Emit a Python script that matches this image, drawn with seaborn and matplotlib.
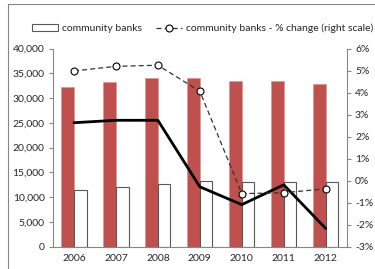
import matplotlib
matplotlib.use("Agg")
import matplotlib.pyplot as plt
from matplotlib.lines import Line2D
from matplotlib.patches import Patch
from matplotlib.ticker import FuncFormatter, FixedLocator
import seaborn as sns
import numpy as np
import pandas as pd

years = ["2006", "2007", "2008", "2009", "2010", "2011", "2012"]
all_banks = [32300, 33200, 34100, 34000, 33500, 33450, 32800]
community_banks = [11450, 12100, 12700, 13200, 13150, 13150, 13000]
all_banks_pct = [2.63, 2.74, 2.74, -0.28, -1.09, -0.19, -2.17]
community_pct = [4.98, 5.19, 5.24, 4.06, -0.59, -0.55, -0.37]

sns.set_style("white")
plt.rcParams["font.family"] = ["Lato", "DejaVu Sans"]
grey = "#868686"

df = pd.DataFrame({
    "year": years * 2,
    "value": all_banks + community_banks,
    "series": ["all banks"] * 7 + ["community banks"] * 7,
})

fig = plt.figure(figsize=(3.75, 2.69), dpi=100)
ax = fig.add_axes([0.1413, 0.0829, 0.7832, 0.7368])
sns.barplot(data=df, x="year", y="value", hue="series", ax=ax,
            palette=["#C0504D", "white"], width=0.6, legend=False,
            saturation=1)
for p in ax.patches[7:14]:
    p.set_edgecolor("#595959")
    p.set_linewidth(0.8)
for p in ax.patches[:7]:
    p.set_edgecolor("#D99694")
    p.set_linewidth(0.5)

ax.set_ylim(0, 40000)
ax.set_xlim(-0.5, 6.5)
ax.set_yticks(np.arange(0, 40001, 5000))
ax.yaxis.set_major_formatter(FuncFormatter(lambda v, _: f"{int(v):,}"))
ax.set_xlabel("")
ax.set_ylabel("")
ax.xaxis.set_minor_locator(FixedLocator(np.arange(-0.5, 7, 1)))
ax.tick_params(axis="x", which="major", length=0, labelsize=7.5, pad=5)
ax.tick_params(axis="x", which="minor", length=3, color=grey, width=0.8)
ax.tick_params(axis="y", length=3, color=grey, width=0.8, labelsize=7.5,
               left=True, pad=3)
for s in ["top", "right"]:
    ax.spines[s].set_visible(False)
for s in ["left", "bottom"]:
    ax.spines[s].set_color(grey)
    ax.spines[s].set_linewidth(0.8)

ax2 = ax.twinx()
xs = np.arange(len(years))
sns.lineplot(x=xs, y=all_banks_pct, ax=ax2, color="black", linewidth=2)
sns.lineplot(x=xs, y=community_pct, ax=ax2, color="#333333", linewidth=0.9,
             linestyle=(0, (4, 2.5)), marker="o", markersize=5,
             markerfacecolor="white", markeredgecolor="black",
             markeredgewidth=0.8)
ax2.set_ylim(-3, 6)
ax2.set_yticks(np.arange(-3, 7, 1))
ax2.yaxis.set_major_formatter(FuncFormatter(lambda v, _: f"{int(round(v))}%"))
ax2.tick_params(axis="y", length=3, color=grey, width=0.8, labelsize=7.5, right=True, pad=3)
for s in ["top", "left", "bottom"]:
    ax2.spines[s].set_visible(False)
ax2.spines["right"].set_color(grey)
ax2.spines["right"].set_linewidth(0.8)

handles = [
    Patch(facecolor="white", edgecolor="#595959", linewidth=0.8),
    Line2D([0], [0], color="#333333", linewidth=0.9, linestyle=(0, (4, 2.5)),
           marker="o", markersize=5, markerfacecolor="white",
           markeredgecolor="black", markeredgewidth=0.8),
]
fig.legend(handles, ["community banks", "community banks - % change (right scale)"],
           loc="center", bbox_to_anchor=(0.54, 0.895), ncol=2, frameon=False,
           fontsize=7.5, handlelength=2.5, handleheight=0.6, columnspacing=1.3,
           handletextpad=0.4)

fig.add_artist(Line2D([8 / 375, 8 / 375], [0, 1 - 4 / 269], color=grey,
                      linewidth=0.8, transform=fig.transFigure))
fig.add_artist(Line2D([8 / 375, 1], [1 - 4 / 269, 1 - 4 / 269], color=grey,
                      linewidth=0.8, transform=fig.transFigure))

fig.savefig("out.png", dpi=100)
